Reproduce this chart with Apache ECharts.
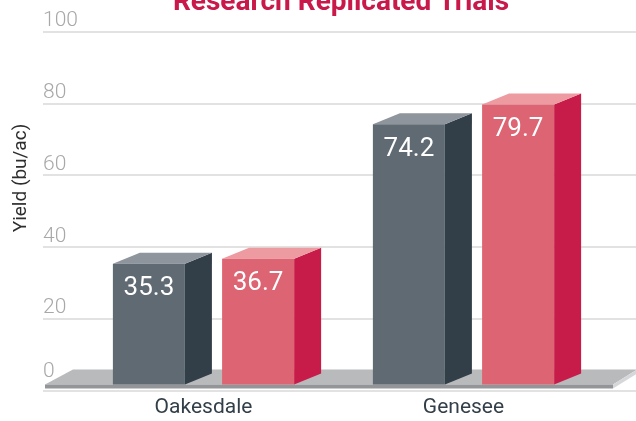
<!DOCTYPE html>
<html>
<head>
<meta charset="utf-8">
<script src="https://cdn.jsdelivr.net/npm/echarts@6/dist/echarts.min.js"></script>
<style>
  html, body { margin: 0; padding: 0; background: #ffffff; }
  #chart { width: 636px; height: 421px; }
</style>
</head>
<body>
<div id="chart"></div>
<script>
// data
const categories = ["Oakesdale", "Genesee"];
const seriesGrayName = "Trial A";
const seriesPinkName = "Trial B";
const grayValues = [35.3, 74.2];
const pinkValues = [36.7, 79.7];
const yMin = 0;
const yMax = 100;
const yStep = 20;

const baseFont = "Roboto, sans-serif";

// 3D box for one bar (front, side, top faces)
function barRenderer(offset, colors) {
  return function (params, api) {
    const cat = api.value(0);
    const val = api.value(1);
    const top = api.coord([cat, val]);
    const zero = api.coord([cat, 0]);
    const band = api.size([1, 0])[0];
    const w = band * 0.277;
    const cx = top[0] + band * offset;
    const x0 = cx - w / 2;
    const x1 = cx + w / 2;
    const yTop = top[1];
    const yBot = zero[1] - 6;
    const dx = 27, dy = -11;
    return {
      type: "group",
      children: [
        {
          type: "polygon",
          shape: { points: [[x1, yTop], [x1 + dx, yTop + dy], [x1 + dx, yBot + dy], [x1, yBot]] },
          style: { fill: colors.side }
        },
        {
          type: "polygon",
          shape: { points: [[x0, yTop], [x0 + dx, yTop + dy], [x1 + dx, yTop + dy], [x1, yTop]] },
          style: { fill: colors.top }
        },
        {
          type: "rect",
          shape: { x: x0, y: yTop, width: w, height: yBot - yTop },
          style: { fill: colors.front }
        },
        {
          type: "text",
          x: cx,
          y: yTop + 25,
          style: {
            text: val.toFixed(1),
            fill: "#ffffff",
            fontSize: 26,
            fontFamily: baseFont,
            align: "center",
            verticalAlign: "middle"
          }
        }
      ]
    };
  };
}

// grey platform under the bars
function floorRenderer(params, api) {
  const cs = params.coordSys;
  const base = api.coord([0, 0])[1] - 6;
  const left = cs.x + 2;
  const right = cs.x + cs.width - 23;
  return {
    type: "group",
    children: [
      {
        type: "polygon",
        shape: { points: [[left, base], [right, base], [right + 24, base - 15], [left + 28, base - 15]] },
        style: { fill: "#b9babc" }
      },
      {
        type: "polygon",
        shape: { points: [[right, base], [right + 24, base - 15], [right + 24, base - 11], [right, base + 4]] },
        style: { fill: "#d6d7d8" }
      },
      {
        type: "rect",
        shape: { x: left, y: base, width: right - left, height: 4 },
        style: { fill: "#949598" }
      }
    ]
  };
}

const chart = echarts.init(document.getElementById("chart"));

const option = {
  animation: false,
  grid: [
    { left: 43, right: 0, top: 31.7, bottom: 30.5 },
    { left: 73.5, right: 42.5, top: 31.7, bottom: 30.5 }
  ],
  graphic: [
    {
      type: "text",
      x: 341,
      y: 17,
      style: {
        text: "Research Replicated Trials",
        fill: "#c8194a",
        fontSize: 28,
        fontWeight: "bold",
        fontFamily: baseFont,
        align: "center",
        verticalAlign: "bottom"
      }
    },
    {
      type: "text",
      x: 21,
      y: 178,
      rotation: Math.PI / 2,
      style: {
        text: "Yield (bu/ac)",
        fill: "#2e2e2e",
        fontSize: 19,
        fontFamily: baseFont,
        align: "center",
        verticalAlign: "middle"
      }
    }
  ],
  xAxis: [
    { gridIndex: 0, type: "value", min: 0, max: 1, show: false },
    {
      gridIndex: 1,
      type: "category",
      data: categories,
      axisLine: { show: false },
      axisTick: { show: false },
      axisLabel: {
        margin: 7,
        fontSize: 21,
        color: "#333f48",
        fontFamily: baseFont
      }
    }
  ],
  yAxis: [
    {
      gridIndex: 0,
      type: "value",
      min: yMin,
      max: yMax,
      interval: yStep,
      axisLine: { show: false },
      axisTick: { show: false },
      axisLabel: {
        inside: true,
        margin: 0,
        verticalAlign: "bottom",
        fontSize: 21,
        fontWeight: 300,
        color: "#a8a8a8",
        fontFamily: baseFont,
        formatter: (v) => (v === 0 ? "{z|0}" : String(v)),
        rich: {
          z: {
            fontSize: 21,
            fontWeight: 300,
            color: "#a8a8a8",
            fontFamily: baseFont,
            padding: [0, 0, 8, 0]
          }
        }
      },
      splitLine: { lineStyle: { color: "#e2e2e2", width: 2 } }
    },
    { gridIndex: 1, type: "value", min: yMin, max: yMax, show: false }
  ],
  series: [
    {
      name: "floor",
      type: "custom",
      xAxisIndex: 0,
      yAxisIndex: 0,
      renderItem: floorRenderer,
      data: [[0, 0]],
      silent: true
    },
    {
      name: seriesGrayName,
      type: "custom",
      xAxisIndex: 1,
      yAxisIndex: 1,
      renderItem: barRenderer(-0.21, { front: "#5f6a73", side: "#323e48", top: "#8e959c" }),
      data: grayValues.map((v, i) => [i, v])
    },
    {
      name: seriesPinkName,
      type: "custom",
      xAxisIndex: 1,
      yAxisIndex: 1,
      renderItem: barRenderer(0.21, { front: "#dd6472", side: "#c71b4a", top: "#ee9aa1" }),
      data: pinkValues.map((v, i) => [i, v])
    }
  ]
};

chart.setOption(option);
window.addEventListener("resize", () => chart.resize());
</script>
</body>
</html>
